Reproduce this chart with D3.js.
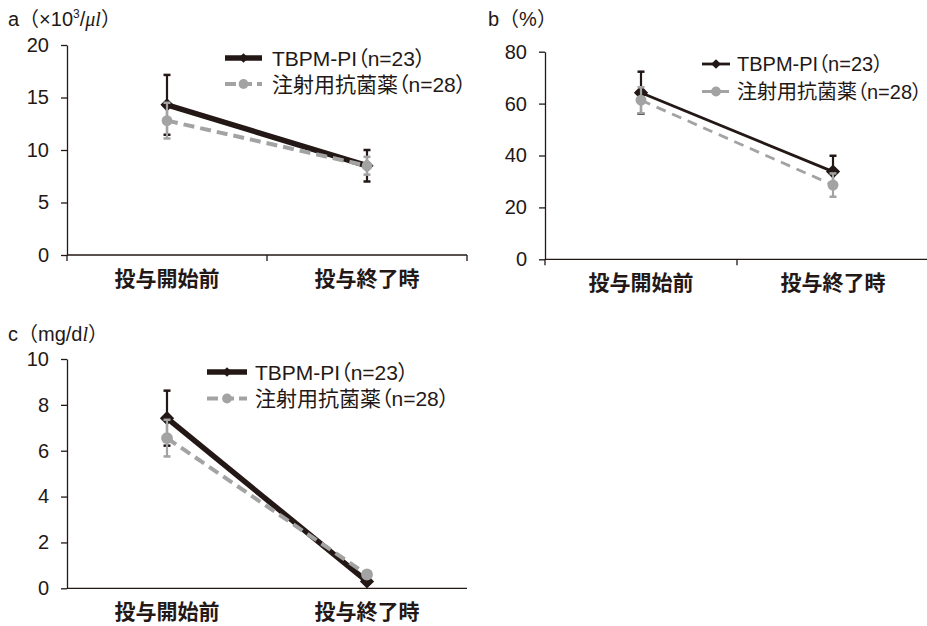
<!DOCTYPE html>
<html>
<head>
<meta charset="utf-8">
<script src="https://cdn.jsdelivr.net/npm/d3@7"></script>
<style>
  body { margin: 0; background: #fff; }
  svg { display: block; }
  text { font-family: "Liberation Sans", "Noto Sans CJK JP", sans-serif; fill: #231815; }
  .legend-text { font-feature-settings: "palt"; }
</style>
</head>
<body>
<svg id="chart" width="927" height="626"></svg>
<script>
// categories and legend
var categories = ["投与開始前", "投与終了時"];
var seriesNames = ["TBPM-PI（n=23）", "注射用抗菌薬（n=28）"];

// a: WBC (x10^3/ul)
var aTbpm = [14.3, 8.5], aTbpmSd = [2.85, 1.5];
var aInj = [12.8, 8.5], aInjSd = [1.7, 0.85];
var aTicks = [0, 5, 10, 15, 20];

// b: neutrophil (%)
var bTbpm = [64.2, 33.8], bTbpmSd = [8.1, 6.1];
var bInj = [61.3, 28.6], bInjSd = [5.0, 4.5];
var bTicks = [0, 20, 40, 60, 80];

// c: CRP (mg/dl)
var cTbpm = [7.42, 0.3], cTbpmSd = [1.2, 0.1];
var cInj = [6.55, 0.6], cInjSd = [0.8, 0.1];
var cTicks = [0, 2, 4, 6, 8, 10];

var black = "#231815", gray = "#a3a3a3";
var svg = d3.select("#chart");

function drawPanel(p) {
  var g = svg.append("g");

  var x = d3.scaleBand().domain(categories).range([p.x0, p.x1]);
  var y = d3.scaleLinear().domain([0, d3.max(p.ticks)]).range([p.y0, p.y1]);

  // title
  var t = g.append("text").attr("x", p.tx).attr("y", p.ty).attr("font-size", 20);
  p.title(t);

  // y axis
  var ya = g.append("g").attr("transform", "translate(" + p.x0 + ",0)")
    .call(d3.axisLeft(y).tickValues(p.ticks).tickSize(6).tickSizeOuter(0).tickPadding(12));
  ya.select(".domain").attr("stroke", black).attr("stroke-width", 1.3);
  ya.selectAll(".tick line").attr("stroke", black).attr("stroke-width", 1.3);
  ya.selectAll(".tick text").attr("font-size", 20).attr("fill", black)
    .style("font-family", "'Liberation Sans', sans-serif");

  // x axis
  var xa = g.append("g").attr("transform", "translate(0," + p.y0 + ")")
    .call(d3.axisBottom(x).tickSize(0).tickPadding(16));
  xa.select(".domain").attr("stroke", black).attr("stroke-width", 1.3)
    .attr("d", "M" + p.x0 + ",0H" + p.x1);
  xa.selectAll(".tick text").attr("font-size", 21).attr("font-weight", "bold").attr("fill", black)
    .style("font-family", "'Noto Sans CJK JP', sans-serif");
  if (p.xticks) {
    var edges = [p.x0].concat(categories.map(function(c) { return x(c) + x.bandwidth(); }));
    g.selectAll(".xtick").data(edges).enter().append("line")
      .attr("x1", function(d) { return d; }).attr("x2", function(d) { return d; })
      .attr("y1", p.y0).attr("y2", p.y0 + 6)
      .attr("stroke", black).attr("stroke-width", 1.3);
  }

  var cx = function(i) { return x(categories[i]) + x.bandwidth() / 2; };
  var line = d3.line().x(function(d, i) { return cx(i); }).y(function(d) { return y(d); });

  var series = [
    { vals: p.tbpm, sd: p.tbpmSd, color: black, w: p.bw, dash: null, mark: "diamond" },
    { vals: p.inj, sd: p.injSd, color: gray, w: p.gw, dash: p.dash, mark: "circle" }
  ];

  series.forEach(function(s) {
    g.append("path").attr("d", line(s.vals)).attr("fill", "none")
      .attr("stroke", s.color).attr("stroke-width", s.w)
      .attr("stroke-dasharray", s.dash);
  });

  series.forEach(function(s) {
    s.vals.forEach(function(v, i) {
      var xx = cx(i);
      g.append("line").attr("x1", xx).attr("x2", xx)
        .attr("y1", y(v - s.sd[i])).attr("y2", y(v + s.sd[i]))
        .attr("stroke", s.color).attr("stroke-width", 2.2);
      [v - s.sd[i], v + s.sd[i]].forEach(function(e) {
        g.append("line").attr("x1", xx - 3.5).attr("x2", xx + 3.5)
          .attr("y1", y(e)).attr("y2", y(e))
          .attr("stroke", s.color).attr("stroke-width", 2.5);
      });
    });
    g.selectAll(null).data(s.vals).enter().append("path")
      .attr("transform", function(d, i) { return "translate(" + cx(i) + "," + y(d) + ")"; })
      .attr("d", d3.symbol().type(s.mark === "diamond" ? d3.symbolDiamond2 : d3.symbolCircle)
        .size(s.mark === "diamond" ? p.dsize : p.csize))
      .attr("fill", s.color);
  });

  // legend
  series.forEach(function(s, i) {
    var ly = p.ly + i * p.lgap;
    g.append("line").attr("x1", p.lx0).attr("x2", p.lx1).attr("y1", ly).attr("y2", ly)
      .attr("stroke", s.color).attr("stroke-width", s.w)
      .attr("stroke-dasharray", s.dash ? "11,5" : null);
    g.append("path").attr("transform", "translate(" + ((p.lx0 + p.lx1) / 2) + "," + ly + ")")
      .attr("d", d3.symbol().type(s.mark === "diamond" ? d3.symbolDiamond2 : d3.symbolCircle)
        .size(s.mark === "diamond" ? 60 : 75))
      .attr("fill", s.color);
    g.append("text").attr("class", "legend-text").attr("x", p.tx0).attr("y", ly).attr("dy", "0.36em")
      .attr("font-size", p.lfont).text(seriesNames[i]);
  });
}

drawPanel({
  x0: 67, x1: 467, y0: 255, y1: 45, ticks: aTicks,
  tbpm: aTbpm, tbpmSd: aTbpmSd, inj: aInj, injSd: aInjSd,
  bw: 5.5, gw: 4, dash: "11,6", dsize: 110, csize: 90, xticks: true,
  tx: 8, ty: 26,
  title: function(t) {
    t.append("tspan").text("a（×10");
    t.append("tspan").attr("font-size", 12).attr("dy", -8).text("3");
    t.append("tspan").attr("dy", 8).text("/");
    t.append("tspan").attr("font-style", "italic").style("font-family", "'Liberation Serif', serif").text("μl");
    t.append("tspan").text("）");
  },
  lx0: 225, lx1: 262, tx0: 272, ly: 58, lgap: 26, lfont: 21
});

drawPanel({
  x0: 545, x1: 929, y0: 259.3, y1: 51.7, ticks: bTicks,
  tbpm: bTbpm, tbpmSd: bTbpmSd, inj: bInj, injSd: bInjSd,
  bw: 2.8, gw: 2.8, dash: "10,7", dsize: 130, csize: 95, xticks: true,
  tx: 488, ty: 26,
  title: function(t) { t.text("b（%）"); },
  lx0: 702, lx1: 730, tx0: 737, ly: 64, lgap: 27.5, lfont: 20
});

drawPanel({
  x0: 67, x1: 467, y0: 588.3, y1: 359, ticks: cTicks,
  tbpm: cTbpm, tbpmSd: cTbpmSd, inj: cInj, injSd: cInjSd,
  bw: 5.5, gw: 4, dash: "11,6", dsize: 130, csize: 110, xticks: false,
  tx: 8, ty: 341,
  title: function(t) {
    t.append("tspan").text("c（mg/d");
    t.append("tspan").attr("font-style", "italic").style("font-family", "'Liberation Serif', serif").text("l");
    t.append("tspan").text("）");
  },
  lx0: 207, lx1: 247, tx0: 255, ly: 372, lgap: 26.5, lfont: 21
});
</script>
</body>
</html>
